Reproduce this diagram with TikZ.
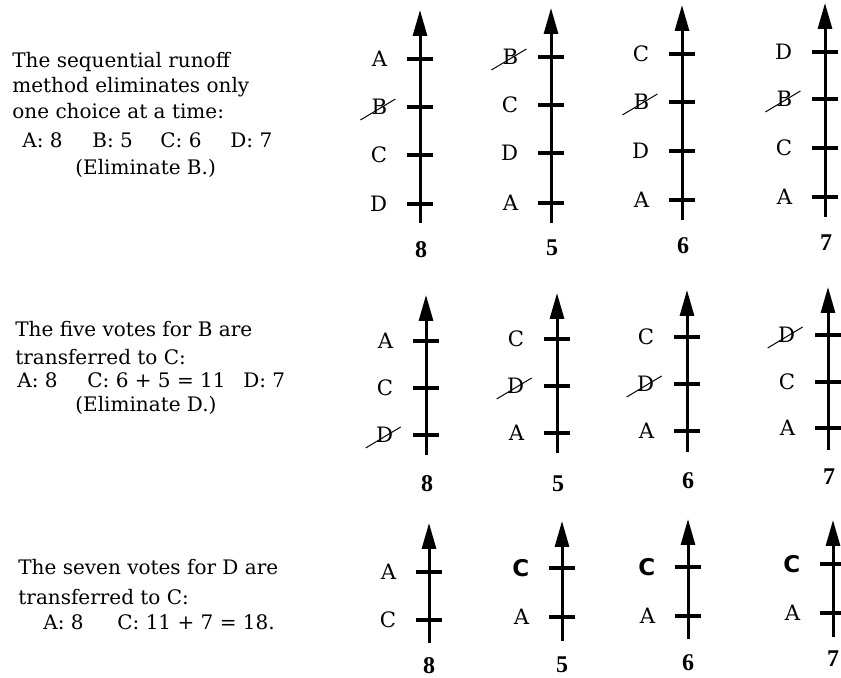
\documentclass[tikz,border=0pt]{standalone}
\usepackage{fontspec}
\setmainfont{DejaVu Serif}
\newfontfamily\boldsans{DejaVu Sans}
\newfontfamily\numfont{Liberation Serif}
\usetikzlibrary{arrows.meta,positioning}

\begin{document}
\begin{tikzpicture}[x=.5pt,y=.5pt,
every node/.style={font=\fontsize{10.6}{13}\selectfont},
note/.style={align=left,inner sep=0pt,anchor=base west,font=\fontsize{10}{13}\selectfont},
axis/.style={line width=1.5pt,-{Triangle[length=13pt,width=7pt]}},
tick/.style={fill=black,inner sep=0pt,minimum width=13pt,minimum height=1.6pt},
cand/.style={inner sep=1pt},
votes/.style={font=\fontsize{12}{14}\numfont\bfseries,inner sep=1pt},
strike/.style={line width=.5pt}]
\useasboundingbox (0,0) rectangle (841,678);
% texts on the left
\node[note] (t1) at (12,503) {The sequential runoff\\[-.5pt]
method eliminates only\\
one choice at a time:\\[1.5pt]
\hspace*{5pt}\makebox[35pt][l]{A: 8}\makebox[34pt][l]{B: 5}\makebox[35pt][l]{C: 6}D: 7\\[.5pt]
\hspace*{31.5pt}(Eliminate B.)};
\node[note] (t2) at (15,266) {The five votes for B are\\[1pt]
transferred to C:\\[-1.5pt]
\hspace*{1pt}\makebox[35pt][l]{A: 8}\makebox[78pt][l]{C: 6 + 5 = 11}D: 7\\[-1pt]
\hspace*{30pt}(Eliminate D.)};
\node[note] (t3) at (18,48) {The seven votes for D are\\[2pt]
transferred to C:\\[-.5pt]
\hspace*{12.5pt}\makebox[37pt][l]{A: 8}C: 11 + 7 = 18.};
% first round: four ballots
\foreach \c/\x/\yb/\yt/\v/\yv/\lst in {
  1/420/455/668/8/428/{619/A,571/B,523/C,474/D},
  2/551/455/670/5/430/{621/B,573/C,525/D,475/A},
  3/682/458/673/6/432/{624/C,576/B,527/D,478/A},
  4/825/461/675/7/435/{626/D,579/B,530/C,481/A}}{
  \coordinate (r1b\c) at (\x,\yb);
  \coordinate (r1t\c) at (\x,\yt);
  \draw[axis] (r1b\c) -- (r1t\c);
  \foreach \y/\l [count=\i] in \lst {
    \node[tick] (r1k\c\i) at (\x,\y) {};
    \node[cand,left=8.5pt of r1k\c\i] (r1n\c\i) {\l};
  }
  \node[votes] (r1v\c) at (\x+1,\yv) {\v};
}
% second round
\foreach \c/\x/\yb/\yt/\v/\yv/\lst in {
  1/426/223/383/8/194/{337/A,290/C,243/D},
  2/557/225/385/5/194/{339/C,292/D,245/A},
  3/687/226/388/6/197/{341/C,294/D,247/A},
  4/828/228/391/7/201/{343/D,296/C,250/A}}{
  \coordinate (r2b\c) at (\x,\yb);
  \coordinate (r2t\c) at (\x,\yt);
  \draw[axis] (r2b\c) -- (r2t\c);
  \foreach \y/\l [count=\i] in \lst {
    \node[tick] (r2k\c\i) at (\x,\y) {};
    \node[cand,left=8.5pt of r2k\c\i] (r2n\c\i) {\l};
  }
  \node[votes] (r2v\c) at (\x+1,\yv) {\v};
}
% third round
\foreach \c/\x/\yb/\yt/\v/\yv/\lst in {
  1/429/35/155/8/12/{106/A,58/C},
  2/562/37/157/5/13/{110/{\fontsize{11.5}{13}\boldsans\bfseries C},61/A},
  3/688/39/159/6/15/{111/{\fontsize{11.5}{13}\boldsans\bfseries C},62/A},
  4/833/41/158/7/19/{114/{\fontsize{11.5}{13}\boldsans\bfseries C},65/A}}{
  \coordinate (r3b\c) at (\x,\yb);
  \coordinate (r3t\c) at (\x,\yt);
  \draw[axis] (r3b\c) -- (r3t\c);
  \foreach \y/\l [count=\i] in \lst {
    \node[tick] (r3k\c\i) at (\x,\y) {};
    \node[cand,left=8.5pt of r3k\c\i] (r3n\c\i) {\l};
  }
  \node[votes] (r3v\c) at (\x,\yv) {\v};
}
% eliminated choices
\foreach \s in {r1n12,r1n21,r1n32,r1n42,r2n13,r2n22,r2n32,r2n41}
  \draw[strike] ([shift={(-19,-13)}]\s.center) -- ([shift={(16,8)}]\s.center);
\end{tikzpicture}
\end{document}
